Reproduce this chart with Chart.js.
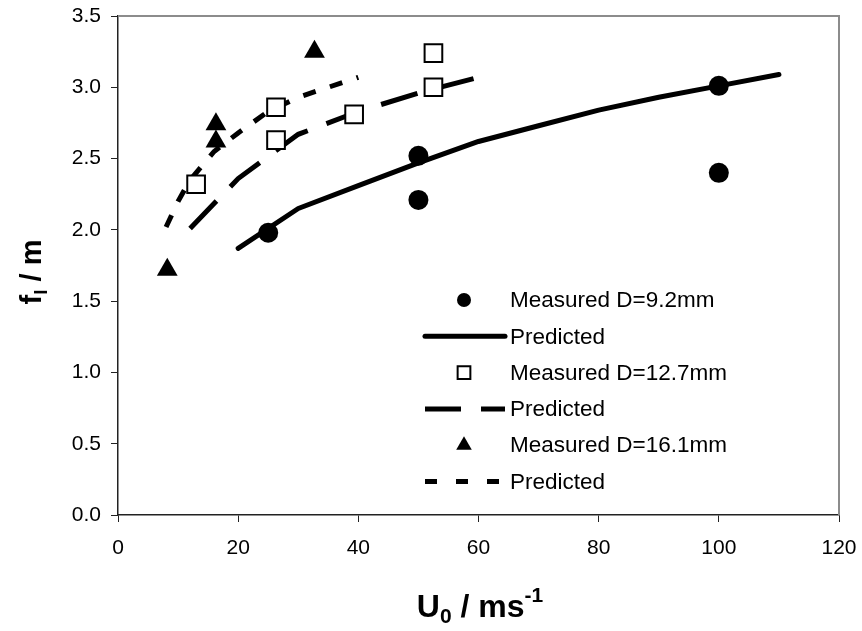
<!DOCTYPE html>
<html>
<head>
<meta charset="utf-8">
<script src="https://cdn.jsdelivr.net/npm/chart.js@4.4.1/dist/chart.umd.min.js"></script>
<style>
  body { margin: 0; background: #fff; }
  #wrap { width: 862px; height: 631px; }
</style>
</head>
<body>
<div id="wrap"><canvas id="frictionChart"></canvas></div>
<script>
// measured and predicted values
const measured92X = [25, 50, 50, 100, 100];
const measured92Y = [1.98, 2.52, 2.21, 3.01, 2.40];
const predicted92X = [20, 30, 40, 50, 60, 70, 80, 90, 100, 110];
const predicted92Y = [1.87, 2.15, 2.31, 2.47, 2.62, 2.73, 2.84, 2.93, 3.01, 3.09];

const measured127X = [13, 26.3, 26.3, 39.3, 52.5, 52.5];
const measured127Y = [2.32, 2.63, 2.86, 2.81, 3.00, 3.24];
const predicted127X = [12, 20, 30, 40, 50, 60];
const predicted127Y = [2.01, 2.36, 2.67, 2.83, 2.96, 3.07];

const measured161X = [8.2, 16.3, 16.3, 32.7];
const measured161Y = [1.72, 2.62, 2.74, 3.25];
const predicted161X = [8, 10, 12, 16, 20, 25, 30, 35, 40];
const predicted161Y = [2.02, 2.20, 2.35, 2.55, 2.68, 2.83, 2.93, 3.00, 3.07];

const seriesLabels = ['Measured D=9.2mm', 'Predicted', 'Measured D=12.7mm', 'Predicted', 'Measured D=16.1mm', 'Predicted'];
const xTicks = [0, 20, 40, 60, 80, 100, 120];
const yTicks = [0, 0.5, 1, 1.5, 2, 2.5, 3, 3.5];

function toPoints(xs, ys) {
    return xs.map((x, i) => ({ x: x, y: ys[i] }));
}

const FONT = '"Liberation Sans", Arial, sans-serif';

function drawMarker(ctx, style, x, y, r, fill, stroke, lw) {
    ctx.save();
    ctx.beginPath();
    if (style === 'circle') {
        ctx.arc(x, y, r, 0, Math.PI * 2);
    } else if (style === 'rect') {
        const s = r * Math.SQRT1_2;
        ctx.rect(x - s, y - s, 2 * s, 2 * s);
    } else if (style === 'triangle') {
        const a = Math.PI * 2 / 3;
        ctx.moveTo(x, y - r);
        ctx.lineTo(x + Math.sin(a) * r, y - Math.cos(a) * r);
        ctx.lineTo(x + Math.sin(2 * a) * r, y - Math.cos(2 * a) * r);
        ctx.closePath();
    }
    ctx.fillStyle = fill;
    ctx.fill();
    if (lw > 0) {
        ctx.lineWidth = lw;
        ctx.strokeStyle = stroke;
        ctx.stroke();
    }
    ctx.restore();
}

const legendInside = {
    id: 'legendInside',
    afterDraw(chart) {
        const { ctx } = chart;
        const x0 = 425, x1 = 505, xm = 464, tx = 510;
        const top = 300, step = 36.3;
        ctx.save();
        ctx.font = '22.5px ' + FONT;
        ctx.fillStyle = '#000';
        ctx.textBaseline = 'middle';
        ctx.textAlign = 'left';
        chart.data.datasets.forEach((ds, i) => {
            const y = top + i * step;
            if (ds.showLine) {
                ctx.save();
                ctx.beginPath();
                ctx.strokeStyle = '#000';
                ctx.lineWidth = ds.borderWidth;
                ctx.lineCap = ds.borderCapStyle || 'butt';
                ctx.setLineDash(ds.legendDash || []);
                ctx.moveTo(x0, y);
                ctx.lineTo(x1, y);
                ctx.stroke();
                ctx.restore();
            } else {
                drawMarker(ctx, ds.pointStyle, xm, y, ds.legendRadius, ds.pointBackgroundColor, '#000', ds.pointBorderWidth);
            }
            ctx.fillText(ds.label, tx, y + 1);
        });
        ctx.restore();
    }
};

const frameAndTitles = {
    id: 'frameAndTitles',
    beforeDatasetsDraw(chart) {
        const { ctx, chartArea: a } = chart;
        ctx.save();
        ctx.strokeStyle = '#8c8c8c';
        ctx.lineWidth = 2;
        ctx.beginPath();
        ctx.moveTo(a.left, a.top);
        ctx.lineTo(a.right, a.top);
        ctx.lineTo(a.right, a.bottom);
        ctx.stroke();
        ctx.restore();
    },
    afterDraw(chart) {
        const { ctx } = chart;
        ctx.save();
        ctx.fillStyle = '#000';
        ctx.textBaseline = 'alphabetic';

        // x title: U0 / ms-1
        let big = 'bold 32px ' + FONT, small = 'bold 21px ' + FONT;
        ctx.font = big; const wU = ctx.measureText('U').width;
        const wRest = ctx.measureText(' / ms').width;
        ctx.font = small; const w0 = ctx.measureText('0').width;
        const wSup = ctx.measureText('-1').width;
        let x = 480 - (wU + w0 + wRest + wSup) / 2;
        const base = 617;
        ctx.font = big; ctx.fillText('U', x, base); x += wU;
        ctx.font = small; ctx.fillText('0', x, base + 6); x += w0;
        ctx.font = big; ctx.fillText(' / ms', x, base); x += wRest;
        ctx.font = small; ctx.fillText('-1', x, base - 15);

        // y title: fl / m (rotated)
        big = 'bold 29px ' + FONT; small = 'bold 19px ' + FONT;
        ctx.translate(41, 272);
        ctx.rotate(-Math.PI / 2);
        ctx.font = big; const wf = ctx.measureText('f').width;
        const wm = ctx.measureText(' / m').width;
        ctx.font = small; const wl = ctx.measureText('l').width;
        let y = -(wf + wl + wm) / 2;
        ctx.font = big; ctx.fillText('f', y, 0); y += wf;
        ctx.font = small; ctx.fillText('l', y, 6); y += wl;
        ctx.font = big; ctx.fillText(' / m', y, 0);
        ctx.restore();
    }
};

const ctx = document.getElementById('frictionChart').getContext('2d');

new Chart(ctx, {
    type: 'scatter',
    data: {
        datasets: [
            {
                label: seriesLabels[0],
                data: toPoints(measured92X, measured92Y),
                pointStyle: 'circle', pointRadius: 10, legendRadius: 7,
                pointBackgroundColor: '#000', pointBorderColor: '#000', pointBorderWidth: 0,
                showLine: false, order: 0
            },
            {
                label: seriesLabels[1],
                data: toPoints(predicted92X, predicted92Y),
                showLine: true, borderColor: '#000', borderWidth: 5, borderCapStyle: 'round',
                borderJoinStyle: 'round', pointRadius: 0, tension: 0, order: 1
            },
            {
                label: seriesLabels[2],
                data: toPoints(measured127X, measured127Y),
                pointStyle: 'rect', pointRadius: 12.5, legendRadius: 9,
                pointBackgroundColor: '#fff', pointBorderColor: '#000', pointBorderWidth: 2,
                showLine: false, order: 0
            },
            {
                label: seriesLabels[3],
                data: toPoints(predicted127X, predicted127Y),
                showLine: true, borderColor: '#000', borderWidth: 5, borderDash: [38, 20],
                legendDash: [36, 20], pointRadius: 0, tension: 0, order: 1
            },
            {
                label: seriesLabels[4],
                data: toPoints(measured161X, measured161Y),
                pointStyle: 'triangle', pointRadius: 12, legendRadius: 9,
                pointBackgroundColor: '#000', pointBorderColor: '#000', pointBorderWidth: 0,
                showLine: false, order: 0
            },
            {
                label: seriesLabels[5],
                data: toPoints(predicted161X, predicted161Y),
                showLine: true, borderColor: '#000', borderWidth: 5, borderDash: [13, 15],
                legendDash: [12, 19], pointRadius: 0, tension: 0, order: 1
            }
        ]
    },
    options: {
        responsive: true,
        maintainAspectRatio: false,
        animation: false,
        layout: { padding: { top: 16, right: 23, left: 0, bottom: 0 } },
        plugins: {
            legend: { display: false },
            tooltip: { enabled: false }
        },
        scales: {
            x: {
                type: 'linear',
                min: 0,
                max: 120,
                afterFit(scale) {
                    scale.height = 116;
                    scale.paddingLeft = 0;
                    scale.paddingRight = 0;
                },
                afterBuildTicks(scale) { scale.ticks = xTicks.map(v => ({ value: v })); },
                ticks: {
                    color: '#000',
                    font: { family: FONT, size: 21 },
                    padding: 14,
                    maxRotation: 0
                },
                grid: { drawOnChartArea: false, drawTicks: true, tickLength: 7, color: '#222' },
                border: { color: '#222', width: 1.5 }
            },
            y: {
                type: 'linear',
                min: 0,
                max: 3.5,
                afterFit(scale) {
                    scale.width = 118;
                    scale.paddingTop = 0;
                    scale.paddingBottom = 0;
                },
                afterBuildTicks(scale) { scale.ticks = yTicks.map(v => ({ value: v })); },
                ticks: {
                    color: '#000',
                    font: { family: FONT, size: 21 },
                    padding: 10,
                    callback: v => v.toFixed(1)
                },
                grid: { drawOnChartArea: false, drawTicks: true, tickLength: 7, color: '#222' },
                border: { color: '#222', width: 1.5 }
            }
        }
    },
    plugins: [frameAndTitles, legendInside]
});
</script>
</body>
</html>
